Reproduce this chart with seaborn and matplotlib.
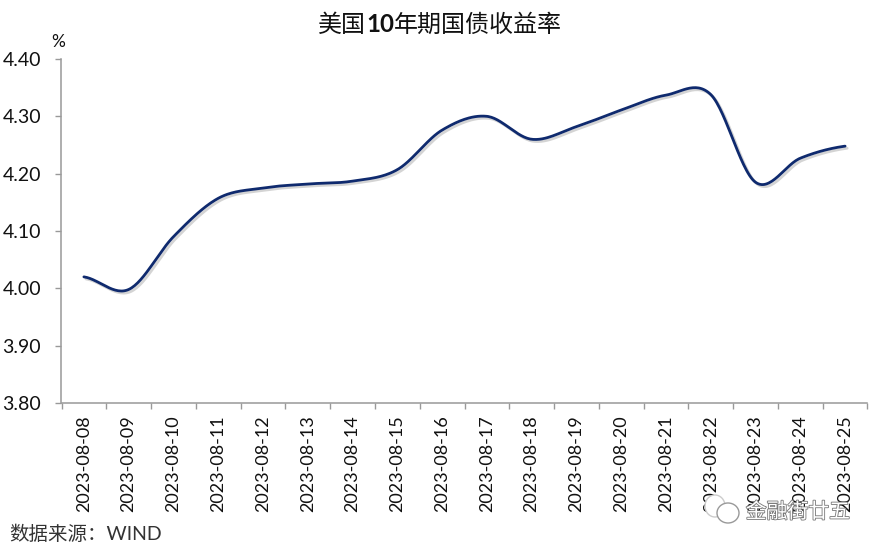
import numpy as np
import pandas as pd
import seaborn as sns
import matplotlib.pyplot as plt
import matplotlib.patheffects as pe
from matplotlib.patches import Ellipse

dates = ['2023-08-08', '2023-08-09', '2023-08-10', '2023-08-11', '2023-08-12', '2023-08-13',
         '2023-08-14', '2023-08-15', '2023-08-16', '2023-08-17', '2023-08-18', '2023-08-19',
         '2023-08-20', '2023-08-21', '2023-08-22', '2023-08-23', '2023-08-24', '2023-08-25']
yields = [4.02, 3.998, 4.09, 4.157, 4.175, 4.182, 4.187, 4.207, 4.276, 4.30,
          4.26, 4.282, 4.311, 4.337, 4.338, 4.185, 4.227, 4.248]
yticks = [3.80, 3.90, 4.00, 4.10, 4.20, 4.30, 4.40]

sns.set_theme(style="white")
plt.rcParams['font.family'] = ['Lato', 'Noto Sans CJK SC', 'DejaVu Sans']


# the chart uses a smoothed line, same idea as the spreadsheet one
def smooth(y, n=30):
    y = np.array(y)
    pts = np.concatenate([[y[0]], y, [y[-1]]])
    xs, ys = [], []
    for i in range(len(y) - 1):
        p0, p1, p2, p3 = pts[i:i + 4]
        t = np.linspace(0, 1, n, endpoint=False)
        ys.append(0.5 * (2 * p1 + (p2 - p0) * t + (2 * p0 - 5 * p1 + 4 * p2 - p3) * t ** 2
                         + (3 * p1 - p0 - 3 * p2 + p3) * t ** 3))
        xs.append(i + t)
    xs.append([len(y) - 1])
    ys.append([y[-1]])
    return np.concatenate(xs), np.concatenate(ys)


xs, ys = smooth(yields)
df = pd.DataFrame({'x': xs, 'y': ys})

fig = plt.figure(figsize=(8.79, 5.5), dpi=100)
ax = fig.add_axes([61.5 / 879, 1 - 403 / 550, (867.5 - 61.5) / 879, (403 - 59) / 550])

sns.lineplot(data=df, x='x', y='y', ax=ax, color='#0f2a6e', linewidth=2.0, solid_capstyle='round',
             path_effects=[pe.SimpleLineShadow(offset=(1.5, -1.5), shadow_color='#aaaaaa', alpha=0.5),
                           pe.Normal()])

ax.set_xlim(-0.5, 17.5)
ax.set_ylim(3.8, 4.4)
ax.set_xlabel('')
ax.set_ylabel('')
ax.set_yticks(yticks)
ax.set_yticklabels(['%.2f' % v for v in yticks], fontsize=14, color='#111111')
ax.set_xticks(np.arange(-0.5, 18, 1))
ax.set_xticklabels([])
ax.set_xticks(np.arange(18), minor=True)
ax.set_xticklabels(dates, minor=True, rotation=90, fontsize=13, color='#111111')
ax.tick_params(axis='x', which='major', length=4.3, width=1, color='#999999', direction='out', bottom=True)
ax.tick_params(axis='x', which='minor', length=0, pad=9)
ax.tick_params(axis='y', length=4.3, width=1, color='#999999', direction='out', left=True, pad=10.5)
for s in ['top', 'right']:
    ax.spines[s].set_visible(False)
for s in ['left', 'bottom']:
    ax.spines[s].set_color('#999999')
    ax.spines[s].set_linewidth(1.1)
ax.grid(False)

# title in three pieces, the 10 is bold in the original
t1 = fig.text(318 / 879, 1 - 25 / 550, '美国', ha='left', va='center', fontsize=17.3, color='#111111')
t2 = ax.annotate('10', xy=(1, 0.5), xycoords=t1, ha='left', va='center', fontsize=17.3,
                 fontweight='bold', color='#111111', annotation_clip=False)
t3 = ax.annotate('年期国债收益率', xy=(1, 0.5), xycoords=t2, ha='left', va='center', fontsize=17.3,
                 color='#111111', annotation_clip=False)

fig.text(58 / 879, 1 - 42 / 550, '%', ha='center', va='center', fontsize=12.5, color='#111111')
fig.text(9 / 879, 1 - 534 / 550, '数据来源：WIND', ha='left', va='center', fontsize=14, color='#333333')

# watermark
for cx, cy, w, h, c in [(715, 506, 20, 22, '#cccccc'), (728, 513, 22, 20, '#999999')]:
    fig.add_artist(Ellipse((cx / 879, 1 - cy / 550), w / 879, h / 550, transform=fig.transFigure,
                           facecolor='white', edgecolor=c, linewidth=1))
fig.text(798 / 879, 1 - 512 / 550, '金融街廿五', ha='center', va='center', fontsize=15, color='white',
         path_effects=[pe.withStroke(linewidth=1.2, foreground='#777777')])

fig.savefig('out.png', dpi=100)
